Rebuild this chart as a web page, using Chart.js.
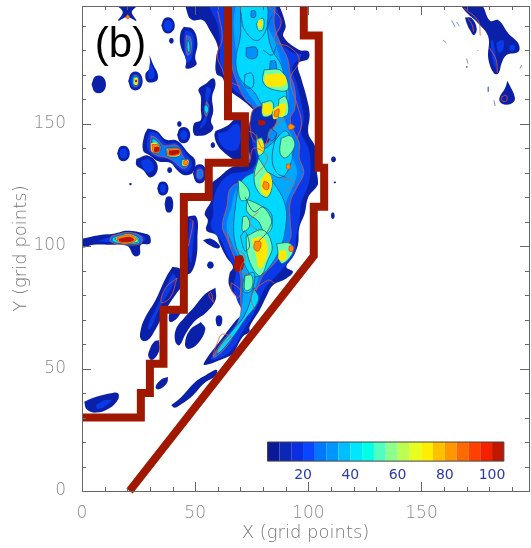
<!DOCTYPE html>
<html>
<head>
<meta charset="utf-8">
<style>html,body{margin:0;padding:0;background:#fff}canvas{display:block}</style>
<script src="https://cdn.jsdelivr.net/npm/chart.js@4"></script>
</head>
<body>
<canvas id="map" width="531" height="548"></canvas>
<script>
// #region Data (all in grid points)
// ---------------------------------------
const panelLabel = "(b)";
const xTitle = "X (grid points)";
const yTitle = "Y (grid points)";
const labelledTicks = [0, 50, 100, 150];

const levelColors = ["#0a1a96", "#0a28b4", "#0a2ee0", "#0a46ff", "#0078ff", "#0096ff", "#00beff", "#00e6ff", "#00ffe6", "#50ffc0",
  "#8cff8c", "#bcff50", "#e6ff1e", "#ffee00", "#ffc000", "#ff9800", "#ff6a00", "#ff4000", "#f52000", "#c01800"];
const levelStarts = [5, 10, 15, 20, 25, 30, 35, 40, 45, 50, 55, 60, 65, 70, 75, 80, 85, 90, 95, 100];
const barLabels = [20, 40, 60, 80, 100];

const boundaryLeft = [[0, 30], [26, 30], [26, 40], [30, 40], [30, 52], [36, 52], [36, 74], [45, 74], [45, 120], [56, 120], [56, 134], [72, 134], [72, 153], [64.5, 153], [64.5, 200]];
const boundaryRight = [[98, 200], [98, 186], [104.6, 186], [104.6, 132], [107, 132], [107, 116], [102.4, 116], [102.4, 96], [21, 0]];

const navyShapes = [
  // main ridge
  [[86.5, 200], [90, 190], [89, 185.5], [96, 180], [100, 179.5], [100, 176.5], [95.5, 174.5], [97, 168], [99, 161.6], [100.6, 154], [100, 146], [103, 140.5], [103.5, 132.4], [104.3, 125.6], [103.5, 124], [100, 120], [98.4, 113.3], [96, 107.5], [95.5, 101], [94, 97], [90.3, 91.5], [93.2, 89.5], [90.3, 86.8], [84.4, 84], [81.4, 79.3], [78.5, 73.9], [74, 67], [74, 65], [71, 63], [66.7, 56], [64.5, 54.8], [54, 51.4], [55, 54], [60.8, 61], [67.4, 69], [71.9, 73.9], [70.4, 77.2], [65.2, 83.4], [65.2, 88.8], [66.7, 91.5], [63.7, 95.6], [60.8, 101], [59.3, 104.5], [54.9, 106.5], [55.6, 110.6], [54.2, 113.3], [57.1, 118.8], [56.4, 124.2], [60.8, 128.3], [66.7, 132.4], [72.6, 133], [74, 136.5], [72.6, 146], [74.8, 151.4], [77, 154], [66.7, 162.3], [63.7, 162.3], [62.3, 168.4], [59.3, 170.5], [59.3, 177.3], [60, 181.4], [56.4, 188.2], [53.4, 192.2], [49, 192.2], [46.8, 194.3], [46.8, 200]],
  // upper left blobs
  [[15, 198.5], [24.5, 198.5], [22, 195.5], [24, 192], [20, 193.5], [16, 192], [18, 195.5]],
  [[35, 190], [36.5, 193], [39.5, 193], [41, 190], [39.5, 187.2], [36.5, 187.2]],
  [[38.4, 183.8], [39, 184.8], [40, 184.8], [40.5, 183.8], [40, 182.8], [39, 182.8]],
  [[45, 189.5], [49, 188.5], [51, 183], [50, 177], [50.5, 174], [46, 172.5], [46, 176], [43.5, 182], [43.5, 187]],
  [[29.8, 178], [31.5, 174], [33.5, 170], [33, 167.5], [29, 167], [28, 170], [30, 173]],
  [[20.4, 167.4], [22, 170.8], [25.2, 170.8], [26.8, 167.4], [25.2, 164], [22, 164]],
  [[4.2, 166], [5.8, 169.2], [9, 169.2], [10.6, 166], [9, 162.8], [5.8, 162.8]],
  [[55, 166.5], [58, 168.5], [59, 166], [57.5, 161], [58, 155], [57, 151], [58, 148], [55, 145.5], [52, 145], [49.5, 145.5], [49.5, 150], [52.5, 151.5], [52.5, 156], [52.5, 161], [51.5, 164]],
  [[42, 145.3], [43.4, 148.2], [46.4, 148.2], [47.8, 145.3], [46.4, 142.4], [43.4, 142.4]],
  [[42, 149.8], [42.5, 150.8], [43.5, 150.8], [44, 149.8], [43.5, 148.8], [42.5, 148.8]],
  [[56.8, 141.2], [57.3, 142.2], [58.3, 142.2], [58.8, 141.2], [58.3, 140.2], [57.3, 140.2]],
  [[59, 147], [64, 149], [68, 152], [72, 152], [72, 135], [68, 135], [63, 138], [60, 141], [58.5, 145]],
  // hot cluster
  [[29, 148], [33, 147], [37, 143.5], [42, 143], [47, 138], [50, 135], [49, 130], [45, 129], [42, 131], [39, 134], [34, 134.5], [30, 137], [27, 139], [27.5, 145]],
  [[24, 135.5], [29, 137], [33, 134], [33, 130], [30, 128], [27, 131], [24, 133]],
  [[15.5, 137.8], [16.9, 140.6], [19.7, 140.6], [21.1, 137.8], [19.7, 135], [16.9, 135]],
  [[49, 129.6], [50.5, 133], [53.5, 133], [55, 129.6], [53.5, 126], [50.5, 126]],
  [[37.6, 131], [38.1, 132], [39.3, 132], [39.8, 131], [39.3, 130], [38.1, 130]],
  [[21, 125.7], [21.8, 125.7], [21.8, 124.9], [21, 124.9]],
  [[33.2, 123.5], [34.4, 126], [37, 126], [38.2, 123.5], [37, 121], [34.4, 121]],
  [[36.5, 117.1], [37.4, 120], [39.4, 120], [40.3, 117.1], [39.4, 114], [37.4, 114]],
  [[110, 135.4], [110.5, 136.4], [111.7, 136.4], [112.2, 135.4], [111.7, 134.4], [110.5, 134.4]],
  [[111.3, 126.3], [112.1, 126.3], [112.1, 125.7], [111.3, 125.7]],
  [[98.5, 124], [100, 123.5], [99, 118], [97, 116.5], [96.5, 118.5]],
  [[110, 112.4], [110.4, 113.6], [111.2, 113.6], [111.6, 112.4], [111.2, 111.2], [110.4, 111.2]],
  // strip along left boundary
  [[46, 112], [50.5, 112], [51, 103], [50.5, 95], [48, 89], [45, 89], [45, 100]],
  [[40, 91.5], [43.5, 90.5], [45, 85], [42, 81], [37, 74], [32.5, 66], [29, 61.5], [26, 62], [26, 66], [28, 71], [32.5, 78], [37, 87]],
  [[45, 75], [42, 70.5], [39, 69], [38.5, 72], [41, 75]],
  [[34, 61.5], [34, 57], [31, 53.5], [29.3, 55], [30, 58], [32, 61]],
  [[59, 83], [59, 78], [55, 73], [50, 69.5], [46, 64.5], [43, 59.5], [41.2, 61], [41.5, 66], [45.5, 71], [49.5, 75], [54.5, 80.5]],
  [[52.5, 69], [54.5, 66], [51, 60], [47, 58], [45.5, 60], [47.5, 65.5]],
  [[59, 70], [59.7, 71.5], [61.3, 71.5], [62, 70], [61.3, 67.5], [59.7, 67.5]],
  [[55.2, 92.2], [56, 93.5], [57.4, 93.5], [58.2, 92.2], [57.4, 90.9], [56, 90.9]],
  [[53.4, 102.5], [57, 103], [61, 100], [60, 99], [56, 100.5]],
  // lower streaks
  [[39.4, 35], [44, 38.5], [50, 44.5], [55, 47.5], [59.5, 49.5], [59, 47], [54, 44], [49, 39], [44, 35.5], [41, 34]],
  [[38, 46.5], [37.5, 44], [34, 41.5], [32.5, 42.5], [35, 45.5]],
  [[1, 36.4], [4.7, 38], [12.1, 39.8], [15.8, 40], [16, 37.5], [12.1, 33.8], [6.2, 32], [2, 33.4]],
  // left edge hot streak
  [[0, 103], [8, 104.5], [14, 105], [20, 106.2], [28, 105], [30, 104], [30, 101], [26, 100.5], [25.5, 96.5], [23, 96], [20, 100], [12, 100.5], [5, 100.5], [0, 99.5]],
  // top right
  [[166.7, 199], [175.8, 199], [180.3, 192], [184, 192.2], [188.4, 186.8], [192.8, 182.7], [192.8, 179.3], [187.6, 178], [185.4, 174.6], [184, 170.5], [182, 170.5], [179.5, 176.6], [179.5, 185.4], [175.1, 190.9], [170, 195.2]],
  [[169.2, 193.3], [172.2, 193], [174.4, 188.8], [173.2, 186.1], [171.4, 188.2], [170, 190.9]],
  [[188, 167.5], [191.3, 160.3], [189.4, 158], [185.4, 158.2], [184.4, 160.3], [186.9, 164.4]]
];

const blueShapes = [
  [[85, 200], [88, 190], [86, 185], [93, 179], [97, 178], [93, 173], [95, 166], [97, 158], [98, 152], [97, 146], [100, 140], [101, 132], [100, 125], [97, 118], [96, 110], [94.5, 103], [94, 97], [88, 90], [86, 88], [81, 83], [78, 77], [75, 71], [71, 65], [66, 57.5], [60, 54], [57, 54], [61, 60], [67, 67], [71, 72], [68.5, 78], [67, 84], [68, 90], [65, 95], [61.5, 102], [57, 108], [58, 113], [58, 118], [60, 124], [65, 129], [74, 131], [77, 135], [75, 144], [77, 152], [80, 154], [71, 161], [66, 165], [63, 170], [61, 175], [61, 183], [60, 190], [57, 200]],
  [[36, 190], [37, 192], [39, 192], [40, 190], [39, 188], [37, 188]],
  [[45.5, 188], [48.5, 187], [49.5, 183], [48.5, 177], [46.5, 175], [45, 182]],
  [[30, 175], [32, 171], [31.5, 168.5], [29.5, 168.5], [29.5, 171]],
  [[21.2, 167.4], [22.4, 170], [24.8, 170], [26, 167.4], [24.8, 164.8], [22.4, 164.8]],
  [[55, 165], [57, 164], [56, 160], [55.5, 155], [54.5, 150], [52, 148], [55, 155], [54.5, 161]],
  [[43.2, 145.3], [44, 147], [45.8, 147], [46.6, 145.3], [45.8, 143.6], [44, 143.6]],
  [[60, 146], [64, 147], [68, 150], [70, 148], [69, 140], [65, 139], [61, 142]],
  [[29.5, 146.5], [33, 146], [37, 142], [42, 142], [46.5, 137], [48.5, 134], [47.5, 131], [45, 130.5], [41, 133], [38, 135.5], [34, 136], [30, 138], [28.7, 141]],
  [[26, 134.5], [29, 135.5], [31.5, 133], [31, 130.5], [29, 130], [27, 132]],
  [[16.5, 137.8], [17.4, 139.6], [19.2, 139.6], [20.1, 137.8], [19.2, 136], [17.4, 136]],
  [[50, 129.6], [51, 132], [53, 132], [54, 129.6], [53, 127], [51, 127]],
  [[34.5, 123.5], [35, 125], [36.4, 125], [37, 123.5], [36.4, 122], [35, 122]],
  [[47.5, 110], [49.5, 110], [49, 100], [48, 93], [47, 100]],
  [[40, 89], [41.5, 87], [39.5, 83], [34, 74], [30, 66], [29, 67], [33, 75], [37, 83]],
  [[6, 35], [10, 37], [13, 37], [10, 34.5], [7, 33.5]],
  [[7, 102], [14, 104], [24, 105], [28, 103], [24, 101], [14, 101.5]],
  [[183, 183], [186, 184], [186, 180], [184, 179]],
  [[189, 182], [191, 182], [191, 180], [189, 180]],
  [[180.5, 184], [181.5, 184], [183, 176], [183, 172.5], [181.5, 176]]
];

const azureShapes = [
  [[66, 200], [84, 200], [85, 190], [88, 182], [91, 176], [92, 170], [94, 164], [94, 156], [92, 152], [94, 146], [96, 142], [96, 136], [98, 130], [95, 124], [92, 118], [92, 110], [92, 103], [86, 94], [80, 88], [78, 84], [75, 78], [72, 72], [68, 65], [63, 58], [58, 54.5], [62, 61], [67, 66], [70, 72], [70, 80], [70, 88], [67, 96], [64, 103], [62, 108], [64, 116], [66, 124], [75, 128], [78, 134], [77, 145], [76, 156], [72, 160], [68, 168], [66, 175], [65, 185], [65, 200]],
  [[25, 167.4], [22.8, 169.4], [24.4, 169.4], [25, 167.4], [24.4, 165.4], [22.8, 165.4]],
  [[46, 186], [48, 185], [48, 179], [46.5, 178], [46, 182]],
  [[55, 159], [56, 157], [55, 153], [54, 155]],
  [[30.5, 145], [33, 144], [36, 141], [42, 141], [45, 136], [47, 134], [46, 132], [44, 132], [40, 135], [36, 136.5], [33, 137], [30.5, 139]],
  [[13, 104], [20, 105.5], [26, 104], [26, 101], [17, 100.7], [12.5, 102]],
  [[51, 131], [53, 131], [53, 128], [51, 128]]
];

const skyShapes = [
  [[68, 200], [81, 200], [82, 190], [85, 184], [87, 178], [89, 172], [91, 165], [91, 158], [89, 154], [91, 148], [93, 144], [93, 137], [95, 130], [93, 124], [90, 117], [90, 108], [89, 102], [84, 94], [79, 89], [77, 84], [75, 78], [71, 71], [66, 63], [61, 57], [64, 62], [69, 69], [71, 78], [71, 87], [69, 95], [66, 102], [64, 108], [66, 116], [69, 124], [76, 127], [80, 132], [80, 144], [78, 156], [73, 163], [69, 170], [68, 180], [67, 190]]
];

// dark patch and holes in the middle of the ridge
const darkPatches = [
  [[74, 150], [76, 156], [82, 157], [86, 152], [84, 147], [82, 142], [76, 143]],
  [[86.6, 132.5], [88, 132.5], [88, 130.5], [86.6, 130.5]]
];

const cyanShapes = [
  [[70, 198.5], [81, 199], [82, 188], [84, 180], [88, 174], [90, 165], [90, 158], [86, 153], [80, 157], [76, 163], [70, 168], [68, 176], [70, 186]],
  [[68, 118], [70, 126], [76, 130], [80, 130], [86, 124], [90, 116], [90, 108], [88, 100], [84, 93], [79, 88], [75, 88], [71, 94], [68, 100], [67, 108]],
  [[77, 146], [78, 136], [76, 130], [82, 130], [88, 128], [92, 133], [93, 140], [90, 147], [84, 142], [80, 140]],
  [[72, 88], [76, 89], [75, 82], [72, 81], [71, 84]],
  [[76, 83], [78, 78], [72, 70], [66, 62], [60, 56], [60, 58], [66, 65], [72, 72]],
  [[54.6, 158], [56, 156], [55, 154], [54, 156]],
  [[46.5, 184], [47.5, 183], [47.5, 179], [46.5, 180]],
  [[31, 144], [33, 143], [35, 140], [33, 138], [31, 139]],
  [[37, 140], [43, 140], [43, 137], [38, 136.5]],
  [[44, 135.5], [47, 135], [46, 132.5], [44, 133]],
  [[13.5, 103.5], [20, 105], [25, 103.5], [25, 101], [17, 101], [13.5, 102]],
  [[22.5, 169], [24.7, 169], [24.7, 166], [22.5, 166]]
];

// lighter patches inside the cyan
const hollowPatches = [
  [[72.6, 181], [77, 181], [77, 177], [73, 177]],
  [[83.2, 175.5], [85.5, 175.5], [85.5, 171], [83.2, 171]],
  [[74.8, 196], [76.5, 196], [76.5, 193.5], [74.8, 193.5]],
  [[83, 148], [86, 146], [84, 143], [82, 145]]
];

const greenShapes = [
  [[69, 127], [71, 126], [74, 122], [73, 119], [70, 119]],
  [[78, 136], [82, 130], [84, 126], [82, 120], [78, 122], [76, 128]],
  [[73, 119], [78, 117], [82, 114], [84, 108], [81, 105], [78, 110], [73, 114]],
  [[71, 112], [73, 112], [74, 108], [71, 106]],
  [[72, 88], [75, 88], [75, 83], [72, 82]],
  [[72.5, 104], [80, 106.5], [84, 100], [82, 94], [79, 88], [76, 90], [73, 97]],
  [[86, 101], [92, 101], [93, 97], [88, 93]],
  [[80.5, 172], [88, 171.5], [91, 164], [84, 164], [80, 167]],
  [[79.5, 158.5], [84, 159], [84, 154], [80, 153]],
  [[87, 160], [90, 161], [91, 154], [87, 153]],
  [[88, 144], [92, 145], [94, 141], [90, 136], [87.5, 138]],
  [[77, 143.5], [79.5, 144], [80.5, 139], [78, 137]],
  [[77, 191], [80, 193], [80, 188.5], [78, 188]],
  [[31.5, 142], [34, 141], [34, 138], [31.5, 138.5]],
  [[38, 139.5], [43, 139.5], [43, 137.5], [38, 137]],
  [[14.5, 103], [20, 104.5], [24.5, 103], [24.5, 101.5], [17, 101.5]]
];

const yellowShapes = [
  [[81, 170], [89, 170], [90, 166], [84, 165], [81, 166]],
  [[80, 158], [83.5, 158], [83.5, 154], [80, 154]],
  [[87, 158], [90, 158], [89, 153], [87, 153]],
  [[84.5, 156], [87, 157], [86.5, 152.5], [84.5, 152]],
  [[77.5, 142.8], [79.5, 143], [80, 139], [78, 138]],
  [[79, 127], [82, 130], [84, 126], [82, 120.5], [79.5, 122]],
  [[75, 103], [80, 103.5], [82, 98], [80, 92], [78, 91], [77, 96]],
  [[87, 98], [90, 98], [90, 94.5], [87, 94.5]],
  [[77.8, 192], [79, 192.5], [79.5, 189.5], [78, 189.5]],
  [[30.5, 142], [33, 142], [34, 139], [31, 138.5]],
  [[37.5, 139.5], [43, 139.5], [43, 137], [38, 137]],
  [[44.5, 135], [47, 135], [46.5, 133], [44.5, 133]],
  [[15, 103.5], [21, 104.8], [24.2, 102.8], [21, 101.2], [16, 101.7]],
  [[23.2, 168.6], [24.5, 168.6], [24.5, 166], [23.2, 166]]
];

const orangeShapes = [
  [[76.5, 102], [79, 101.5], [78, 98], [76, 99]],
  [[80.5, 126.5], [82.5, 125.5], [82, 123], [80, 124]],
  [[92, 150], [94, 148.7], [92, 147.5], [91, 148.7]],
  [[85, 155], [87, 156], [86.5, 153], [85, 153]],
  [[90.4, 133.4], [91.8, 133.4], [91.8, 131.6], [90.4, 131.6]],
  [[91.6, 100], [93.2, 100], [93.2, 98], [91.6, 98]],
  [[31, 141.5], [34, 141], [34, 138.5], [31.5, 138.5]],
  [[38, 139.5], [43, 139.5], [43, 137.5], [38, 137.2]],
  [[45, 134.8], [46.5, 134.8], [46.3, 133.3], [45, 133.3]],
  [[20.2, 194.5], [21, 193.5], [20.2, 192.8], [19.4, 193.5]],
  [[15.5, 103.5], [21, 104.5], [24, 102.7], [21, 101.3], [16, 101.8]]
];

const redShapes = [
  [[32, 140.5], [34, 140.3], [34, 138.8], [32, 138.5]],
  [[38.5, 139], [43, 139], [42.5, 137.6], [38.5, 137.4]],
  [[16, 103], [21, 103.8], [23, 102.5], [20, 101.6], [16.5, 102]],
  [[78, 151.5], [81, 151], [80.5, 149.5], [78, 149.5]],
  [[23.5, 167.8], [24.3, 167.8], [24.3, 167], [23.5, 167]]
];

const hotBlock = [[67.5, 96], [71, 96], [71, 90.5], [67.5, 90]];

const redLines = [
  [[60, 196], [62, 185], [59.8, 178], [62, 172], [64, 168], [70, 165]],
  [[82, 198], [88, 192], [85, 184], [92, 181], [96, 176], [92, 168], [95, 158], [97, 150], [95, 144]],
  [[72, 147], [76, 146], [80, 140], [84, 148], [90, 152]],
  [[47, 100], [49, 110], [47.5, 111]],
  [[42, 87], [39, 79], [35, 77], [37, 83], [42, 87]],
  [[58, 77], [56, 80], [57, 81], [58, 77]],
  [[66, 63], [62, 60], [58, 55], [60, 61], [62, 64], [66, 63]],
  [[66, 85], [70, 82], [69, 79], [66, 82], [66, 85]],
  [[85, 85], [82, 86], [75, 80], [76, 74]],
  [[64, 106], [66, 100], [72, 96], [70, 90], [74, 88]],
  [[88, 128], [94, 126], [90, 122]],
  [[76, 128], [82, 136], [76, 140], [74, 134]],
  [[78, 106], [74, 110], [78, 114]],
  [[169, 197], [175, 192], [176, 186]],
  [[180, 181], [183, 176], [183.5, 170.8]],
  [[185.5, 161], [187.5, 161.5], [187.5, 159.2], [185.5, 159.4], [185.5, 161]],
  [[170.5, 193], [172.5, 190], [173, 187.5]],
  [[174.8, 180], [175, 179.6]]
];

const darkLines = [
  [[72, 170], [75, 170.5], [75.5, 165], [72, 165], [72, 170]],
  [[72, 120], [76, 114], [80, 116], [84, 112], [82, 106], [78, 102]],
  [[84, 194], [78, 184], [72, 188], [70, 196]],
  [[70, 104], [72, 106], [74, 100], [72, 98], [70, 104]],
  [[86, 146], [84, 136], [86, 130], [90, 128]],
  [[80, 180], [84, 178], [86, 182]]
];

const thinBlueTicks = [
  [[163.3, 192.2], [164.8, 189.5]], [[165.5, 191.5], [166.7, 189.8]], [[159.6, 184], [161, 183]],
  [[170, 176.5], [170.5, 174.5]], [[170, 173.5], [170, 172.8]], [[179.5, 165], [179.5, 163]],
  [[182, 159.5], [182.6, 157.2]], [[194.3, 173.9], [193.5, 172.5]]
];
// ---------------------------------------
// #endregion

// #region Datasets
// ---------------------------------------
const xy = (list) => list.map((p) => ({ x: p[0], y: p[1] }));
const closed = (list) => xy(list.concat([list[0]]));
const datasets = [];

const addShapes = (shapes, color, border) => {
  shapes.forEach((shape) => {
    datasets.push({
      data: closed(shape),
      showLine: true,
      fill: "shape",
      backgroundColor: color,
      borderColor: border || color,
      borderWidth: border ? 0.8 : 0,
      tension: 0.4,
      pointRadius: 0,
    });
  });
};

const addLines = (lines, color, width, tension) => {
  lines.forEach((line) => {
    datasets.push({
      data: xy(line),
      showLine: true,
      fill: false,
      borderColor: color,
      borderWidth: width,
      tension: tension,
      pointRadius: 0,
    });
  });
};

addShapes(navyShapes, "#0a20a8");
addShapes(blueShapes, "#0a3ae8");
addShapes(azureShapes, "#0078ff", "#d8553a");
addShapes(skyShapes, "#00a8ff");
addShapes(darkPatches, "#0a2ab8", "#d8553a");
addShapes(cyanShapes, "#00d8ff", "#1d4a80");
addShapes(hollowPatches, "#0090ff", "#1d4a80");
addShapes(greenShapes, "#70ffb0", "#1d5a70");
addShapes(yellowShapes, "#ffe800");
addShapes(orangeShapes, "#ff9000", "#d84020");
addShapes(redShapes, "#b81400");
addShapes([hotBlock], "#a81400");
addLines(redLines, "#e0583a", 0.8, 0.4);
addLines(darkLines, "#1d4a80", 0.8, 0.4);
addLines(thinBlueTicks, "#5a70c8", 0.8, 0);

// colour bar
const barX = (v) => 82 + (v - 5) * 1.044;
levelStarts.forEach((start, i) => {
  datasets.push({
    data: closed([[barX(start), 12.2], [barX(start + 5), 12.2], [barX(start + 5), 20], [barX(start), 20]]),
    showLine: true,
    fill: "shape",
    backgroundColor: levelColors[i],
    borderColor: levelColors[i],
    borderWidth: 0,
    tension: 0,
    pointRadius: 0,
  });
});
addLines([[[barX(5), 12.2], [barX(105), 12.2], [barX(105), 20], [barX(5), 20], [barX(5), 12.2]]], "#444444", 1, 0);

// boundary on top of everything
[boundaryLeft, boundaryRight].forEach((line) => {
  datasets.push({
    data: xy(line),
    showLine: true,
    fill: false,
    borderColor: "#a01800",
    borderWidth: 8,
    borderJoinStyle: "miter",
    tension: 0,
    pointRadius: 0,
    clip: { left: 0, top: 0, right: 0, bottom: 3 },
  });
});

datasets.forEach((d, i) => {
  d.order = datasets.length - i;
});
// ---------------------------------------
// #endregion

const frame = {
  id: "frame",
  afterDraw(chart) {
    const { ctx, chartArea: a, scales } = chart;
    ctx.save();
    ctx.strokeStyle = "#666666";
    ctx.lineWidth = 1;
    ctx.strokeRect(a.left + 0.5, a.top + 0.5, a.right - a.left, a.bottom - a.top);
    ctx.beginPath();
    scales.x.ticks.forEach((t) => {
      const px = Math.round(scales.x.getPixelForValue(t.value)) + 0.5;
      const len = t.value % 50 === 0 ? 9 : 4;
      ctx.moveTo(px, a.bottom);
      ctx.lineTo(px, a.bottom - len);
      ctx.moveTo(px, a.top);
      ctx.lineTo(px, a.top + len);
    });
    scales.y.ticks.forEach((t) => {
      const py = Math.round(scales.y.getPixelForValue(t.value)) + 0.5;
      const len = t.value % 50 === 0 ? 9 : 4;
      ctx.moveTo(a.left, py);
      ctx.lineTo(a.left + len, py);
      ctx.moveTo(a.right, py);
      ctx.lineTo(a.right - len, py);
    });
    ctx.stroke();

    ctx.textAlign = "center";
    ctx.textBaseline = "middle";
    ctx.fillStyle = "#2a3aa8";
    ctx.font = "14px 'DejaVu Sans'";
    barLabels.forEach((v) => {
      ctx.fillText(String(v), scales.x.getPixelForValue(barX(v)), scales.y.getPixelForValue(6.2));
    });

    ctx.fillStyle = "#000000";
    ctx.font = "42px 'Liberation Sans'";
    ctx.fillText(panelLabel, scales.x.getPixelForValue(17), scales.y.getPixelForValue(182));
    ctx.restore();
  },
};

const tickLabel = (v) => (labelledTicks.includes(v) ? String(v) : "");

new Chart(document.getElementById("map"), {
  type: "scatter",
  data: { datasets: datasets },
  plugins: [frame],
  options: {
    responsive: false,
    animation: false,
    layout: { padding: { top: 6, right: 2 } },
    plugins: { legend: { display: false }, tooltip: { enabled: false } },
    scales: {
      x: {
        min: 0,
        max: 197.5,
        grid: { display: false },
        border: { display: false },
        afterFit: (s) => {
          s.height = 57;
          s.paddingLeft = 0;
          s.paddingRight = 0;
        },
        title: { display: true, text: xTitle, color: "#777777", font: { family: "DejaVu Sans", size: 18, weight: "200" }, padding: { top: 0 } },
        ticks: { stepSize: 10, includeBounds: false, autoSkip: false, maxRotation: 0, padding: 4, color: "#888888", font: { family: "DejaVu Sans", size: 17, weight: "200" }, callback: tickLabel },
      },
      y: {
        min: 0,
        max: 198,
        grid: { display: false },
        border: { display: false },
        afterFit: (s) => {
          s.width = 82;
          s.paddingTop = 0;
          s.paddingBottom = 0;
        },
        title: { display: true, text: yTitle, color: "#777777", font: { family: "DejaVu Sans", size: 18, weight: "200" }, padding: { top: 11 } },
        ticks: { stepSize: 10, includeBounds: false, autoSkip: false, padding: 8, color: "#888888", font: { family: "DejaVu Sans", size: 17, weight: "200" }, callback: tickLabel },
      },
    },
  },
});
</script>
</body>
</html>
